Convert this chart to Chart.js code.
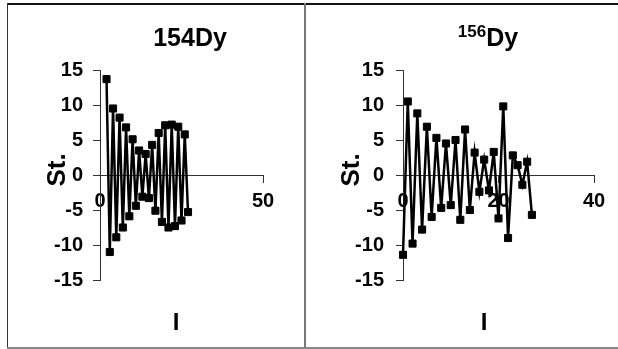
<!DOCTYPE html>
<html>
<head>
<meta charset="utf-8">
<script src="https://cdn.jsdelivr.net/npm/chart.js@4.4.1/dist/chart.umd.min.js"></script>
<style>
  body { margin: 0; background: #fff; }
  #page { position: relative; width: 618px; height: 349px; overflow: hidden;
          font-family: "Liberation Sans", Arial, sans-serif; font-weight: bold; color: #000; }
  canvas { position: absolute; }
  .line { position: absolute; }
  .txt { position: absolute; line-height: 1; white-space: nowrap; }
</style>
</head>
<body>
<div id="page">
  <canvas id="chart154" width="297" height="344" style="left:7px;top:3px"></canvas>
  <canvas id="chart156" width="312" height="344" style="left:306px;top:3px"></canvas>

  <div class="line" style="left:7px;top:3px;width:611px;height:2px;background:#111"></div>
  <div class="line" style="left:7px;top:3px;width:1px;height:345px;background:#333"></div>
  <div class="line" style="left:304px;top:3px;width:2px;height:345px;background:#777"></div>
  <div class="line" style="left:7px;top:347px;width:611px;height:2px;background:#888"></div>

  <div class="txt" style="left:190px;top:25px;font-size:25px;transform:translateX(-50%)">154Dy</div>
  <div class="txt" style="left:488px;top:25px;font-size:25px;transform:translateX(-50%)"><span style="font-size:17px;position:relative;top:-9px">156</span>Dy</div>

  <div class="txt" style="left:56px;top:170px;font-size:26px;transform:translate(-50%,-50%) rotate(-90deg)">St.</div>
  <div class="txt" style="left:350px;top:170px;font-size:26px;transform:translate(-50%,-50%) rotate(-90deg)">St.</div>

  <div class="txt" style="left:176px;top:322px;font-size:24px;transform:translate(-50%,-50%)">I</div>
  <div class="txt" style="left:484px;top:322px;font-size:24px;transform:translate(-50%,-50%)">I</div>
</div>

<script>
// 154Dy: spin I and staggering St.
const spin154 = [2, 3, 4, 5, 6, 7, 8, 9, 10, 11, 12, 13, 14, 15, 16, 17, 18, 19, 20, 21, 22, 23, 24, 25, 26, 27];
const st154 = [13.7, -11.0, 9.5, -8.9, 8.2, -7.5, 6.8, -5.9, 5.1, -4.4, 3.5, -3.1, 3.0,
               -3.3, 4.3, -5.1, 6.0, -6.7, 7.1, -7.5, 7.2, -7.3, 6.9, -6.5, 5.8, -5.3];

// 156Dy
const spin156 = [0, 1, 2, 3, 4, 5, 6, 7, 8, 9, 10, 11, 12, 13, 14, 15, 16, 17, 18, 19, 20, 21, 22, 23, 24, 25, 26, 27];
const st156 = [-11.4, 10.5, -9.8, 8.8, -7.8, 6.9, -6.0, 5.3, -4.7, 4.5, -4.3, 5.0, -6.4, 6.5,
               -5.0, 3.2, -2.4, 2.2, -2.2, 3.3, -6.2, 9.8, -9.0, 2.8, 1.4, -1.4, 1.9, -5.7];

// tick labels
const yTicks = [-15, -10, -5, 0, 5, 10, 15];
const xTicks154 = [0, 50];
const xTicks156 = [0, 20, 40];

Chart.defaults.font.family = '"Liberation Sans", Arial, sans-serif';
Chart.defaults.font.weight = "bold";
Chart.defaults.font.size = 20;
Chart.defaults.color = "#000";

const makeChart = (id, xs, ys, xTicks, pad, yWidth, yLabelPad) => {
  let ctx = document.getElementById(id).getContext("2d");
  return new Chart(ctx, {
    type: "scatter",
    data: {
      datasets: [
        {
          data: xs.map((x, i) => ({ x: x, y: ys[i] })),
          showLine: true,
          clip: false,
          borderColor: "#000",
          backgroundColor: "#000",
          borderWidth: 2.5,
          pointStyle: "rect",
          pointRadius: 5,
          pointBorderWidth: 1,
          tension: 0,
        },
      ],
    },
    options: {
      responsive: false,
      animation: false,
      devicePixelRatio: 1,
      layout: { padding: pad },
      plugins: { legend: { display: false }, tooltip: { enabled: false } },
      scales: {
        x: {
          type: "linear",
          position: { y: 0 },
          min: xTicks[0],
          max: xTicks[xTicks.length - 1],
          afterBuildTicks: (scale) => {
            scale.ticks = xTicks.map((v) => ({ value: v }));
          },
          grid: { drawOnChartArea: false, drawTicks: true, tickLength: 7, color: "#333" },
          border: { display: true, color: "#333", width: 1 },
          ticks: { padding: 7, maxRotation: 0 },
        },
        y: {
          type: "linear",
          position: "left",
          min: yTicks[0],
          max: yTicks[yTicks.length - 1],
          afterBuildTicks: (scale) => {
            scale.ticks = yTicks.map((v) => ({ value: v }));
          },
          afterFit: (scale) => {
            scale.width = yWidth;
          },
          grid: { drawOnChartArea: false, drawTicks: true, tickLength: 7, color: "#333" },
          border: { display: true, color: "#333", width: 1 },
          ticks: { padding: yLabelPad },
        },
      },
    },
  });
};

makeChart("chart154", spin154, st154, xTicks154, { left: 36, right: 41, top: 67, bottom: 67 }, 57, 10);
makeChart("chart156", spin156, st156, xTicks156, { left: 40, right: 24, top: 67, bottom: 67 }, 57, 12);
</script>
</body>
</html>
